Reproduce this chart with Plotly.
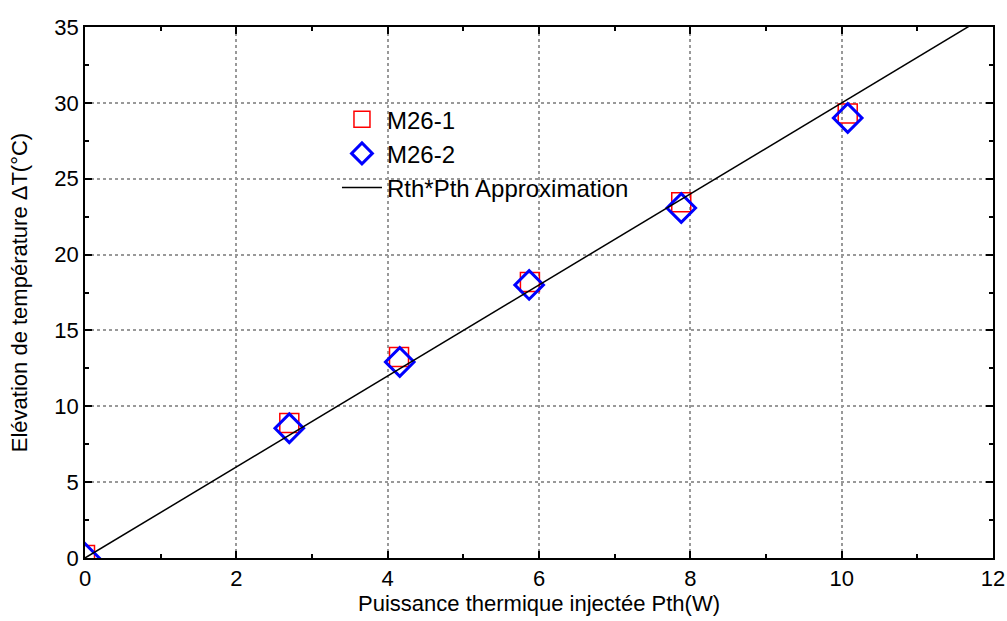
import plotly.graph_objects as go

# measured points
pth_1 = [0.0, 2.7, 4.15, 5.88, 7.88, 10.08]
dt_1 = [0.2, 8.9, 13.25, 18.2, 23.45, 29.3]
pth_2 = [0.0, 2.7, 4.16, 5.87, 7.88, 10.08]
dt_2 = [0.0, 8.55, 12.92, 18.0, 23.07, 29.0]

# Rth*Pth approximation
rth = 3.0
fit_x = [0, 12]
fit_y = [rth * x for x in fit_x]

font = dict(family="Liberation Sans, Arial, sans-serif", size=22, color="black")
legend_font = dict(family="Liberation Sans, Arial, sans-serif", size=24, color="black")

fig = go.Figure()
fig.add_trace(go.Scatter(x=pth_1, y=dt_1, mode='markers', name='M26-1',
                         marker=dict(symbol='square-open', size=19, color='red',
                                     line=dict(width=1.5, color='red'))))
fig.add_trace(go.Scatter(x=pth_2, y=dt_2, mode='markers', name='M26-2',
                         marker=dict(symbol='diamond-open', size=22, color='blue',
                                     line=dict(width=3, color='blue'))))
fig.add_trace(go.Scatter(x=fit_x, y=fit_y, mode='lines', name='Rth*Pth Approximation',
                         line=dict(color='black', width=1.5)))

axis_common = dict(showline=True, linecolor='black', linewidth=1.5, mirror='ticks',
                   ticks='inside', ticklen=7, tickwidth=1.5, tickcolor='black',
                   showgrid=True, gridcolor='#999999', griddash='dot', gridwidth=1.5,
                   zeroline=False, tickfont=font, automargin=False,
                   minor=dict(ticks='inside', ticklen=4, tickwidth=1.5, tickcolor='black',
                              showgrid=False))

fig.update_layout(
    width=1007, height=621,
    paper_bgcolor='white', plot_bgcolor='white',
    font=font,
    margin=dict(l=85, r=14, t=27, b=63),
    showlegend=True,
    legend=dict(x=0.2775, y=0.868, xanchor='left', yanchor='top',
                bgcolor='rgba(0,0,0,0)', font=legend_font, tracegroupgap=0,
                itemwidth=40),
    xaxis=dict(axis_common, range=[0, 12], dtick=2, minor=dict(axis_common['minor'], dtick=1),
               title=dict(text='Puissance thermique injectée Pth(W)', font=font, standoff=2)),
    yaxis=dict(axis_common, range=[0, 35], dtick=5, minor=dict(axis_common['minor'], dtick=2.5),
               title=dict(text='Elévation de température ΔT(°C)', font=font, standoff=21)),
)

# drop the default 8px body margin so the figure fills the window exactly
fig.write_html("out.html", config={'displayModeBar': False},
               post_script="document.body.style.margin='0';document.body.style.overflow='hidden';")
